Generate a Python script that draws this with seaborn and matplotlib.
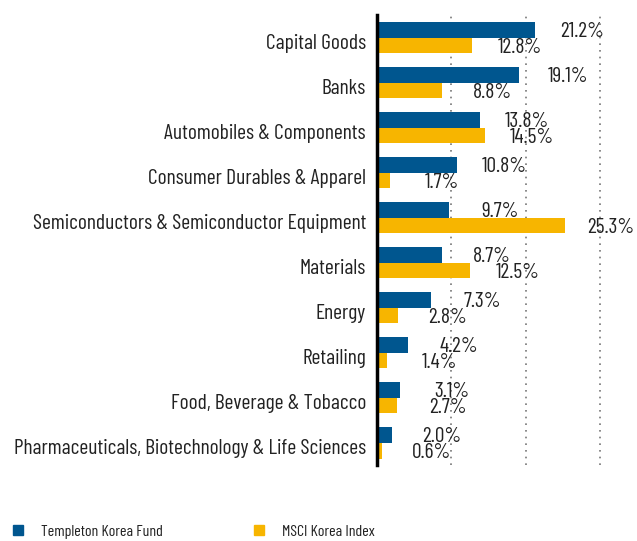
import pandas as pd
import seaborn as sns
import matplotlib.pyplot as plt
import matplotlib.transforms as mtransforms
from matplotlib.patches import Patch

# sector weights, % of total
sectors = ["Capital Goods", "Banks", "Automobiles & Components",
           "Consumer Durables & Apparel",
           "Semiconductors & Semiconductor Equipment", "Materials", "Energy",
           "Retailing", "Food, Beverage & Tobacco",
           "Pharmaceuticals, Biotechnology & Life Sciences"]
fund = [21.2, 19.1, 13.8, 10.8, 9.7, 8.7, 7.3, 4.2, 3.1, 2.0]
index_w = [12.8, 8.8, 14.5, 1.7, 25.3, 12.5, 2.8, 1.4, 2.7, 0.6]
series = ["Templeton Korea Fund", "MSCI Korea Index"]
colors = ["#00568F", "#F7B500"]

df = pd.DataFrame({
    "sector": sectors * 2,
    "weight": fund + index_w,
    "series": [series[0]] * len(sectors) + [series[1]] * len(sectors),
})

sns.set_style("white")
plt.rcParams["font.family"] = ["Barlow Condensed", "DejaVu Sans"]

fig = plt.figure(figsize=(6.37, 5.41), dpi=100)
ax = fig.add_axes([0.592, 0.14, 0.408, 0.832])

sns.barplot(data=df, y="sector", x="weight", hue="series", palette=colors,
            width=0.7, orient="h", ax=ax, legend=False, saturation=1,
            linewidth=0)

# value labels, right aligned a fixed distance past the bar end
for cont in ax.containers:
    for bar in cont:
        w = bar.get_width()
        yc = bar.get_y() + bar.get_height() / 2
        ax.annotate(f"{w:.1f}%", (w, yc), xytext=(50, -1.5),
                    textcoords="offset points", ha="right", va="center",
                    fontsize=15.5, color="#222222")

ax.set_xlim(0, 35)
for g in [10, 20, 30]:
    ax.axvline(g, color="#777777", lw=1.2, ls=(0, (1, 3)), zorder=0)

ax.set_xlabel("")
ax.set_ylabel("")
ax.set_xticks([])
ax.tick_params(axis="y", length=0, labelsize=15.5, pad=8, labelcolor="#222222")
# category names sit a touch below the pair centre
shift = mtransforms.ScaledTranslation(0, -3 / 72, fig.dpi_scale_trans)
for lab in ax.get_yticklabels():
    lab.set_transform(lab.get_transform() + shift)
for s in ["top", "right", "bottom"]:
    ax.spines[s].set_visible(False)
ax.spines["left"].set_linewidth(2.5)
ax.spines["left"].set_color("black")

handles = [Patch(color=c) for c in colors]
fig.legend(handles, series, loc="lower left", bbox_to_anchor=(-0.002, -0.022),
           ncol=2, frameon=False, fontsize=11.5, handlelength=0.65,
           handleheight=0.65, handletextpad=1.1, columnspacing=5.7,
           labelcolor="#222222")

fig.savefig("out.png", dpi=100)
